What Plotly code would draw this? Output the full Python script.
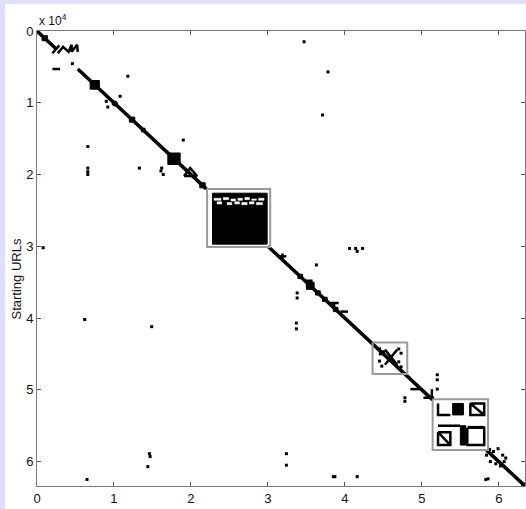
import plotly.graph_objects as go

# ---------------- data (matrix index in units of 1e4) ----------------
N = 6.34
x_ticks = [0, 1, 2, 3, 4, 5, 6]
x_tick_labels = ["0", "1", "2", "3", "4", "5", "6"]
y_ticks = [0, 1, 2, 3, 4, 5, 6]
y_tick_labels = ["0", "1", "2", "3", "4", "5", "6"]

# runs of nonzeros on the main diagonal
diag_start = [0.00, 0.53, 3.00, 5.84]
diag_end = [0.24, 2.20, 5.14, 6.34]

# dense square blocks centred on the diagonal (centre, side)
diag_block_c = [0.10, 0.75, 1.01, 1.235, 1.38, 1.78, 2.15, 3.42, 3.55, 3.65, 3.74, 3.88, 6.32]
diag_block_s = [0.07, 0.12, 0.05, 0.07, 0.05, 0.16, 0.07, 0.06, 0.10, 0.06, 0.06, 0.06, 0.04]

# dense off-diagonal blocks (x0, x1, y0, y1)
rect_x0 = [2.28, 5.40, 5.50]
rect_x1 = [2.99, 5.54, 5.57]
rect_y0 = [2.26, 5.19, 5.50]
rect_y1 = [2.97, 5.35, 5.77]

# sparse band inside the big block (white gaps)
gap_x0 = [2.30, 2.42, 2.52, 2.61, 2.70, 2.79, 2.88, 2.34, 2.47, 2.57, 2.66, 2.76, 2.85]
gap_x1 = [2.39, 2.49, 2.58, 2.67, 2.76, 2.85, 2.95, 2.40, 2.53, 2.63, 2.73, 2.82, 2.93]
gap_y0 = [2.33, 2.32, 2.34, 2.33, 2.32, 2.34, 2.33, 2.38, 2.39, 2.38, 2.39, 2.38, 2.39]
gap_y1 = [2.36, 2.35, 2.37, 2.36, 2.35, 2.36, 2.36, 2.41, 2.42, 2.41, 2.42, 2.41, 2.42]

# line-like structures of nonzeros (polylines)
line_xs = [
    [0.20, 0.29],                                     # X near top
    [0.27, 0.34, 0.41, 0.45, 0.45, 0.52, 0.53],       # zigzag
    [0.20, 0.30],                                     # short dash
    [1.91, 1.99, 2.08, 1.91],                         # triangle
    [0.97, 1.05], [1.01, 1.01],                       # cross near 1
    [3.14, 3.24], [3.19, 3.19],                       # cross near 3.2
    [3.81, 3.92], [3.86, 3.86], [3.94, 4.04],         # dashes near 3.9
    [3.46, 3.58],
    [4.52, 4.68], [4.52, 4.68],                       # X in small box
    [4.85, 5.00], [5.02, 5.16], [5.13, 5.13],         # arrow
    [5.21, 5.21, 5.37],                               # L
    [5.63, 5.81, 5.81, 5.63, 5.63, 5.81],             # square with diagonal
    [5.21, 5.50], [5.60, 5.81],                       # horizontal bar
    [5.21, 5.37, 5.37, 5.21, 5.21, 5.37],             # square with diagonal
    [5.59, 5.81, 5.81, 5.59, 5.59],                   # square
]
line_ys = [
    [0.31, 0.20],
    [0.31, 0.22, 0.29, 0.19, 0.29, 0.19, 0.29],
    [0.53, 0.53],
    [2.02, 1.91, 2.02, 2.02],
    [1.01, 1.01], [0.97, 1.05],
    [3.14, 3.14], [3.10, 3.18],
    [3.79, 3.79], [3.79, 3.87], [3.91, 3.91],
    [3.48, 3.48],
    [4.44, 4.65], [4.65, 4.44],
    [4.99, 4.99], [5.11, 5.11], [4.99, 5.12],
    [5.19, 5.35, 5.35],
    [5.19, 5.19, 5.35, 5.35, 5.19, 5.35],
    [5.50, 5.50], [5.52, 5.52],
    [5.59, 5.59, 5.77, 5.77, 5.59, 5.77],
    [5.53, 5.53, 5.77, 5.77, 5.53],
]

# highlighted communities (gray frames)
frame_x0 = [2.21, 4.36, 5.14]
frame_x1 = [3.03, 4.81, 5.86]
frame_y0 = [2.20, 4.34, 5.13]
frame_y1 = [3.01, 4.78, 5.84]

# isolated nonzeros
dot_x = [3.47, 3.78, 3.71, 1.18, 0.90, 0.92, 1.08, 0.46,
         0.66, 0.66, 0.66, 0.66, 1.33, 1.62, 1.61, 1.64, 1.90,
         0.08, 4.06, 4.14, 4.16, 4.23, 3.63, 3.38, 3.38,
         0.62, 1.49, 3.37, 3.37,
         5.20, 5.20, 5.20, 4.78, 4.78,
         4.45, 4.50, 4.46, 4.70, 4.73, 4.45, 4.48, 4.70, 4.73,
         0.65, 1.46, 1.47, 1.44, 3.24, 3.24, 3.85, 3.87, 4.16, 5.83,
         5.88, 5.93, 5.99, 6.05, 6.09, 5.89, 5.96, 6.02, 6.07, 5.84, 5.86]
dot_y = [0.15, 0.57, 1.17, 0.63, 0.98, 1.06, 0.91, 0.455,
         1.61, 1.91, 1.96, 2.00, 1.91, 1.91, 1.95, 2.00, 1.52,
         3.02, 3.03, 3.03, 3.07, 3.03, 3.26, 3.65, 3.72,
         4.02, 4.12, 4.07, 4.15,
         4.79, 4.86, 4.99, 5.11, 5.16,
         4.43, 4.47, 4.50, 4.43, 4.49, 4.60, 4.67, 4.61, 4.68,
         6.25, 5.89, 5.93, 6.07, 5.89, 6.05, 6.21, 6.21, 6.21, 6.25,
         5.83, 5.86, 5.82, 5.91, 5.95, 6.00, 6.03, 6.06, 6.00, 5.91, 6.24]

# ---------------- figure ----------------
fig = go.Figure()


def rect_path(x0s, x1s, y0s, y1s):
    xs, ys = [], []
    for a, b, c, d in zip(x0s, x1s, y0s, y1s):
        xs += [a, b, b, a, a, None]
        ys += [c, c, d, d, c, None]
    return xs, ys


# diagonal runs
dx, dy = [], []
for s, e in zip(diag_start, diag_end):
    dx += [s, e, None]
    dy += [s, e, None]
fig.add_trace(go.Scatter(x=dx, y=dy, mode="lines",
                         line=dict(color="black", width=3.5), hoverinfo="skip"))

# diagonal blocks
lo = [c - s / 2 for c, s in zip(diag_block_c, diag_block_s)]
hi = [c + s / 2 for c, s in zip(diag_block_c, diag_block_s)]
bx, by = rect_path(lo, hi, lo, hi)
fig.add_trace(go.Scatter(x=bx, y=by, mode="lines", fill="toself", fillcolor="black",
                         line=dict(color="black", width=1), hoverinfo="skip"))

# off-diagonal blocks
rx, ry = rect_path(rect_x0, rect_x1, rect_y0, rect_y1)
fig.add_trace(go.Scatter(x=rx, y=ry, mode="lines", fill="toself", fillcolor="black",
                         line=dict(color="black", width=1), hoverinfo="skip"))

# white gaps in sparse band
gx, gy = rect_path(gap_x0, gap_x1, gap_y0, gap_y1)
fig.add_trace(go.Scatter(x=gx, y=gy, mode="lines", fill="toself", fillcolor="white",
                         line=dict(color="white", width=0.5), hoverinfo="skip"))

# line structures
lx, ly = [], []
for xs, ys in zip(line_xs, line_ys):
    lx += xs + [None]
    ly += ys + [None]
fig.add_trace(go.Scatter(x=lx, y=ly, mode="lines",
                         line=dict(color="black", width=2.5), hoverinfo="skip"))

# dots
fig.add_trace(go.Scatter(x=dot_x, y=dot_y, mode="markers",
                         marker=dict(symbol="square", size=3, color="black"),
                         hoverinfo="skip"))

# gray frames
fx, fy = rect_path(frame_x0, frame_x1, frame_y0, frame_y1)
fig.add_trace(go.Scatter(x=fx, y=fy, mode="lines",
                         line=dict(color="#9a9a9a", width=2), hoverinfo="skip"))

axis_common = dict(
    showgrid=False, zeroline=False, showline=True, linecolor="#7a7a7a", linewidth=1,
    mirror="ticks", ticks="inside", ticklen=4, tickcolor="#555555", automargin=False,
    tickfont=dict(family="Liberation Sans, Arial", size=13, color="#111111"),
)

fig.update_layout(
    width=526, height=509,
    margin=dict(l=37, r=1, t=31, b=23, autoexpand=False),
    paper_bgcolor="rgb(222,222,250)",
    plot_bgcolor="white",
    showlegend=False,
    xaxis=dict(range=[0, N], tickvals=x_ticks, ticktext=x_tick_labels, **axis_common),
    yaxis=dict(range=[N, 0], tickvals=y_ticks, ticktext=y_tick_labels, **axis_common),
    shapes=[dict(type="rect", xref="paper", yref="paper", x0=-0.0656, x1=1.2,
                 y0=-0.3, y1=1.0593, fillcolor="white", line=dict(width=0),
                 layer="below")],
    annotations=[
        dict(text="x 10<sup>4</sup>", xref="paper", yref="paper", x=0, y=1,
             xanchor="left", yanchor="bottom", yshift=1, showarrow=False,
             font=dict(family="Liberation Sans, Arial", size=12, color="#111111")),
        dict(text="Starting URLs", xref="paper", yref="paper", x=0, y=0.455,
             xshift=-30, textangle=-90, showarrow=False,
             font=dict(family="Liberation Sans, Arial", size=13, color="#111111")),
        dict(text="Ending URLs", xref="paper", yref="paper", x=0.5, y=0,
             yanchor="top", yshift=-19, showarrow=False,
             font=dict(family="Liberation Sans, Arial", size=13, color="#111111")),
    ],
)

fig.write_html(
    "out.html",
    config={"displayModeBar": False},
    post_script="document.body.style.margin='0px';"
                "document.body.style.background='rgb(222,222,250)';"
                "document.body.style.overflow='hidden';",
)
